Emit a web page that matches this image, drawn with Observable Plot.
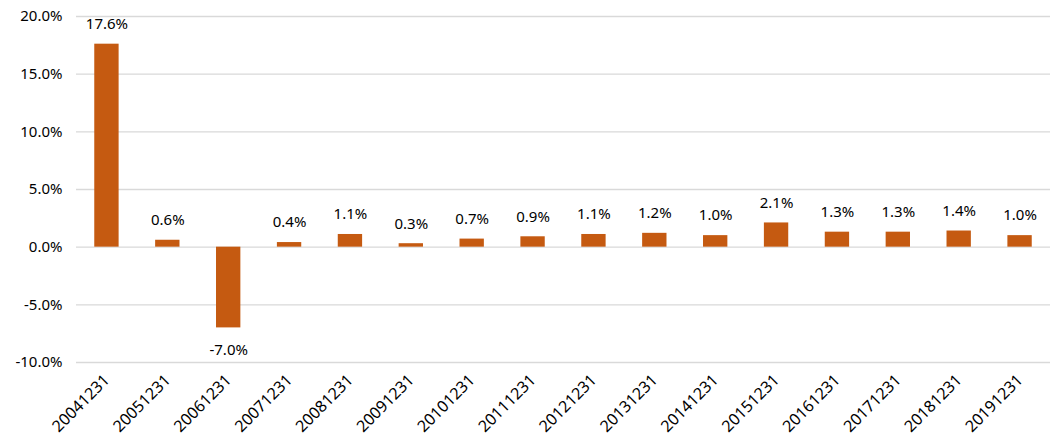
<!DOCTYPE html>
<html>
<head>
<meta charset="utf-8">
<script src="https://cdn.jsdelivr.net/npm/d3@7"></script>
<script src="https://cdn.jsdelivr.net/npm/@observablehq/plot@0.6"></script>
<style>
  html, body { margin: 0; padding: 0; background: #fff; }
  svg { font-family: "Noto Sans", "Open Sans", sans-serif; }
</style>
</head>
<body>
<div id="chart"></div>
<script>
const dates = ["20041231","20051231","20061231","20071231","20081231","20091231","20101231","20111231","20121231","20131231","20141231","20151231","20161231","20171231","20181231","20191231"];
const values = [0.176, 0.006, -0.070, 0.004, 0.011, 0.003, 0.007, 0.009, 0.011, 0.012, 0.010, 0.021, 0.013, 0.013, 0.014, 0.010];
const yTicks = [-0.10, -0.05, 0, 0.05, 0.10, 0.15, 0.20];

const data = dates.map((d, i) => ({date: d, value: values[i]}));
const fmt = v => d3.format(".1%")(v).replace("\u2212", "-");

const chart = Plot.plot({
  width: 1059,
  height: 447,
  marginLeft: 76,
  marginRight: 9,
  marginTop: 16,
  marginBottom: 85,
  style: {fontSize: "15px", color: "#000", fontFamily: "'Noto Sans', 'Open Sans', sans-serif"},
  x: {domain: dates, paddingInner: 0.6, paddingOuter: 0.3, round: false},
  y: {domain: [-0.10, 0.20]},
  marks: [
    Plot.ruleY(yTicks, {stroke: "#d9d9d9", strokeWidth: 1.3}),
    Plot.barY(data, {x: "date", y: "value", fill: "#C55A11"}),
    Plot.axisY({ticks: yTicks, tickFormat: fmt, label: null, tickSize: 0, tickPadding: 14, fontSize: 15}),
    Plot.axisX({label: null, tickSize: 0, tickRotate: -45, tickPadding: 15, fontSize: 16}),
    Plot.text(data.filter(d => d.value >= 0), {x: "date", y: "value", text: d => fmt(d.value), dy: -20, fill: "#000", fontSize: 15}),
    Plot.text(data.filter(d => d.value < 0), {x: "date", y: "value", text: d => fmt(d.value), dy: 22, fill: "#000", fontSize: 15})
  ]
});
document.getElementById("chart").appendChild(chart);
</script>
</body>
</html>
